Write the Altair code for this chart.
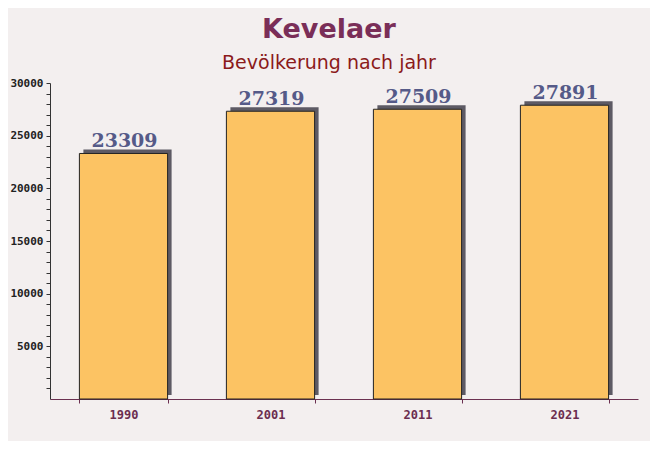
import altair as alt
import pandas as pd

years = ["1990", "2001", "2011", "2021"]
population = [23309, 27319, 27509, 27891]

df = pd.DataFrame({"jahr": years, "einwohner": population})

x = alt.X("jahr:N", sort=years, title=None,
          scale=alt.Scale(paddingInner=0.4, paddingOuter=0.2),
          axis=alt.Axis(labelAngle=0, labelFont="DejaVu Sans Mono", labelFontWeight="bold",
                        labelFontSize=12, labelColor="#6b2d4f", labelPadding=6,
                        domainColor="#6b3050", tickColor="#6b3050", tickBand="extent",
                        tickSize=4))
y = alt.Y("einwohner:Q", title=None,
          scale=alt.Scale(domain=[0, 30000], nice=False),
          axis=alt.Axis(values=list(range(1000, 30001, 1000)),
                        labelExpr="datum.value % 5000 == 0 ? datum.value : ''",
                        labelFont="DejaVu Sans Mono", labelFontWeight="bold",
                        labelFontSize=11, labelColor="#222222", labelPadding=3,
                        domainColor="#333333", tickColor="#333333", tickSize=4,
                        grid=False))

base = alt.Chart(df)

shadow = base.mark_bar(color="#5d5a64", xOffset=4, x2Offset=4, yOffset=-4).encode(x=x, y=y)
bars = base.mark_bar(color="#fcc363", stroke="#222222", strokeWidth=1).encode(x=x, y=y)
labels = base.mark_text(baseline="alphabetic", dy=-6, dx=1, font="DejaVu Serif", fontWeight="bold",
                        fontSize=19, color="#555a88").encode(
    x=x, y=y, text=alt.Text("einwohner:Q", format="d"))

chart = alt.layer(shadow, bars, labels).properties(
    width=588, height=316,
    autosize=alt.AutoSizeParams(type="none"),
    padding={"left": 42, "top": 75, "right": 12, "bottom": 42},
    background="#f3efef",
    title=alt.TitleParams(
        text="Kevelaer", subtitle="Bevölkerung nach jahr",
        anchor="middle", frame="group", dx=-15,
        font="DejaVu Sans", fontSize=27, fontWeight="bold", color="#7a2e58",
        subtitleFont="DejaVu Sans", subtitleFontSize=19, subtitleColor="#8b1a1a",
        subtitlePadding=10, offset=3),
).configure_view(stroke=None)

chart.save("out.html", embed_options={"renderer": "svg", "actions": False})
